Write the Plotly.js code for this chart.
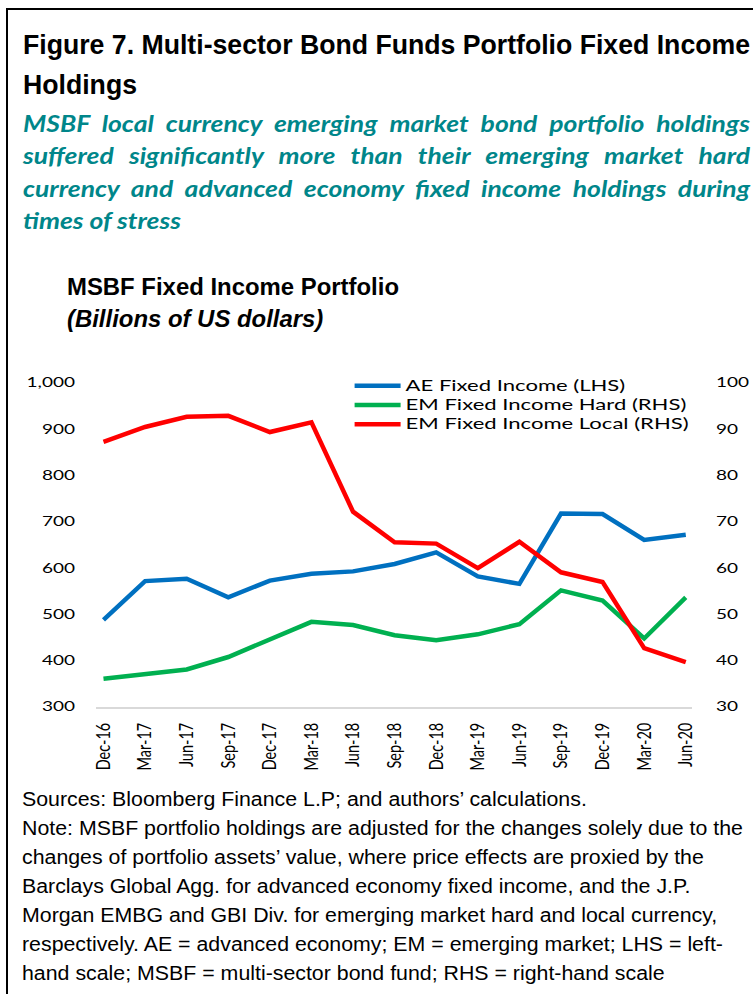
<!DOCTYPE html>
<html>
<head>
<meta charset="utf-8">
<script src="https://cdn.plot.ly/plotly-3.0.1.min.js"></script>
<style>
html, body { margin: 0; padding: 0; background: #fff; }
#page { position: relative; width: 753px; height: 994px; overflow: hidden; background: #fff; }
#frame { position: absolute; left: 6px; top: 8px; width: 800px; height: 1100px; border-left: 2px solid #000; border-top: 2px solid #000; box-sizing: border-box; z-index: 3; }
#chart { position: absolute; left: 0; top: 0; width: 753px; height: 994px; z-index: 1; }
.ln { position: absolute; line-height: 1; transform-origin: 0 0; z-index: 2; }
.ln span { white-space: nowrap; display: inline-block; }
.ttl { font-family: "Liberation Sans", Arial, sans-serif; font-weight: bold; font-size: 28px; color: #000; }
.sub { font-family: Lato, "Open Sans", sans-serif; font-weight: bold; font-style: italic; font-size: 22px; color: #00868A; }
.ctl { font-family: "Liberation Sans", Arial, sans-serif; font-weight: bold; font-size: 24px; color: #000; }
.ctl.it { font-style: italic; }
.note { font-family: "Liberation Sans", Arial, sans-serif; font-size: 20px; color: #000; }
.just { text-align: justify; text-align-last: justify; }
</style>
</head>
<body>
<div id="page">
  <div id="frame"></div>
  <div id="chart"></div>
  <div id="texts"></div>
</div>
<script>
// ---------------- data ----------------
const quarters = ['Dec-16','Mar-17','Jun-17','Sep-17','Dec-17','Mar-18','Jun-18','Sep-18','Dec-18','Mar-19','Jun-19','Sep-19','Dec-19','Mar-20','Jun-20'];
const aeFixedIncome = [488, 572, 577, 537, 573, 588, 593, 609, 634, 582, 566, 718, 717, 661, 672];   // LHS
const emFixedIncomeHard = [36.1, 37.0, 38.1, 40.8, 44.6, 48.4, 47.7, 45.5, 44.4, 45.7, 47.9, 55.2, 53.0, 44.8, 53.7]; // RHS
const emFixedIncomeLocal = [87.3, 90.5, 92.7, 92.9, 89.4, 91.5, 72.2, 65.6, 65.3, 60.0, 65.7, 59.1, 57.0, 42.7, 39.7]; // RHS
const seriesNames = ['AE Fixed Income (LHS)', 'EM Fixed Income Hard (RHS)', 'EM Fixed Income Local (RHS)'];
const leftTicks = [300, 400, 500, 600, 700, 800, 900, 1000];
const leftTickLabels = ['300', '400', '500', '600', '700', '800', '900', '1,000'];
const rightTicks = [30, 40, 50, 60, 70, 80, 90, 100];
const rightTickLabels = ['30', '40', '50', '60', '70', '80', '90', '100'];

const titleLines = ['Figure 7. Multi-sector Bond Funds Portfolio Fixed Income', 'Holdings'];
const subtitleLines = [
  'MSBF local currency emerging market bond portfolio holdings',
  'suffered significantly more than their emerging market hard',
  'currency and advanced economy fixed income holdings during',
  'times of stress'
];
const chartTitleLines = ['MSBF Fixed Income Portfolio', '(Billions of US dollars)'];
const noteLines = [
  'Sources: Bloomberg Finance L.P; and authors\u2019 calculations.',
  'Note: MSBF portfolio holdings are adjusted for the changes solely due to the',
  'changes of portfolio assets\u2019 value, where price effects are proxied by the',
  'Barclays Global Agg. for advanced economy fixed income, and the J.P.',
  'Morgan EMBG and GBI Div. for emerging market hard and local currency,',
  'respectively. AE = advanced economy; EM = emerging market; LHS = left-',
  'hand scale; MSBF = multi-sector bond fund; RHS = right-hand scale'
];

// ---------------- surrounding text ----------------
const texts = document.getElementById('texts');
function addLine(cls, txt, left, top) {
  const d = document.createElement('div');
  d.className = 'ln ' + cls;
  d.style.left = left + 'px';
  d.style.top = top + 'px';
  const s = document.createElement('span');
  s.textContent = txt;
  d.appendChild(s);
  texts.appendChild(d);
  return d;
}
// title (baselines 55, 95)
const tl = titleLines.map((t, i) => addLine('ttl', t, 23, 55 - 0.8465 * 28 + 40 * i));
const ts = 727 / tl[0].firstChild.getBoundingClientRect().width;
tl.forEach(d => d.style.transform = 'scaleX(' + ts + ')');

// subtitle (justified, baselines ~132.3 + 32.4*i)
const subTops = [112.8, 145.2, 177.5, 210];
const sl = subtitleLines.map((t, i) => addLine('sub', t, 23, subTops[i]));
const ss = 158 / sl[3].firstChild.getBoundingClientRect().width;
sl.forEach((d, i) => {
  d.style.transform = 'scaleX(' + ss + ')';
  if (i < 3) {
    d.classList.add('just');
    d.style.width = (727 / ss) + 'px';
    d.firstChild.style.display = 'inline';
    d.firstChild.style.whiteSpace = 'normal';
  }
});

// chart title (baselines 295, 327)
const cl = chartTitleLines.map((t, i) => addLine(i === 0 ? 'ctl' : 'ctl it', t, 67, 274.7 + 32 * i));
const cs = 332 / cl[0].firstChild.getBoundingClientRect().width;
cl.forEach(d => d.style.transform = 'scaleX(' + cs + ')');

// notes (baselines 806 + 29*i)
const nl = noteLines.map((t, i) => addLine('note', t, 22, 789.1 + 29 * i));
const ns = 721 / nl[1].firstChild.getBoundingClientRect().width;
nl.forEach(d => d.style.transform = 'scaleX(' + ns + ')');

// ---------------- chart ----------------
const traces = [
  { x: quarters, y: aeFixedIncome, name: seriesNames[0], type: 'scatter', mode: 'lines', yaxis: 'y',
    line: { color: '#0070C0', width: 4.5 } },
  { x: quarters, y: emFixedIncomeHard, name: seriesNames[1], type: 'scatter', mode: 'lines', yaxis: 'y2',
    line: { color: '#00B050', width: 4.5 } },
  { x: quarters, y: emFixedIncomeLocal, name: seriesNames[2], type: 'scatter', mode: 'lines', yaxis: 'y2',
    line: { color: '#FF0000', width: 4.5 } }
];

const layout = {
  width: 753, height: 994,
  margin: { l: 96, r: 61, t: 383, b: 287, pad: 0 },
  paper_bgcolor: 'rgba(0,0,0,0)',
  plot_bgcolor: 'rgba(0,0,0,0)',
  showlegend: true,
  legend: {
    x: 0.4255, xanchor: 'left', y: 1.037, yanchor: 'top',
    bgcolor: 'rgba(0,0,0,0)', borderwidth: 0,
    font: { family: 'Lato, "Open Sans", sans-serif', size: 12.5, color: '#000' },
    itemwidth: 46, tracegroupgap: 0
  },
  xaxis: {
    type: 'category', range: [-0.18, 14.15],
    showgrid: false, zeroline: false,
    showline: true, linecolor: '#D9D9D9', linewidth: 2,
    ticks: '', tickangle: -90, ticklabelstandoff: 8,
    tickfont: { family: 'Lato, "Open Sans", sans-serif', size: 14.5, color: '#000' },
    fixedrange: true
  },
  yaxis: {
    range: [300, 1000], tickvals: leftTicks, ticktext: leftTickLabels,
    showgrid: false, zeroline: false, showline: false, ticks: '',
    ticklabelstandoff: 20,
    tickfont: { family: 'Lato, "Open Sans", sans-serif', size: 12.5, color: '#000' },
    fixedrange: true
  },
  yaxis2: {
    range: [30, 100], tickvals: rightTicks, ticktext: rightTickLabels,
    overlaying: 'y', side: 'right',
    showgrid: false, zeroline: false, showline: false, ticks: '',
    ticklabelstandoff: 23,
    tickfont: { family: 'Lato, "Open Sans", sans-serif', size: 12.5, color: '#000' },
    fixedrange: true
  }
};

function stretch(sel, k, size) {
  document.querySelectorAll(sel).forEach(el => {
    if (size) el.style.fontSize = size + 'px';
    const w = el.getComputedTextLength();
    if (w > 0) {
      el.setAttribute('textLength', (w * k).toFixed(2));
      el.setAttribute('lengthAdjust', 'spacingAndGlyphs');
    }
  });
}
// widen rotated labels across their glyph height (the reference glyphs are horizontally stretched)
function thicken(sel, k) {
  document.querySelectorAll(sel).forEach(el => {
    const b = el.getBBox();
    const cy = b.y + b.height / 2;
    const tr = el.getAttribute('transform') || '';
    el.setAttribute('transform', tr + ' translate(0,' + cy + ') scale(1,' + k + ') translate(0,' + (-cy) + ')');
  });
}

Plotly.newPlot('chart', traces, layout, { staticPlot: true, displayModeBar: false }).then(() => {
  document.querySelectorAll('#chart .legend [clip-path]').forEach(e => e.removeAttribute('clip-path'));
  stretch('#chart .legendtext', 1.47, 15);
  stretch('#chart g.ytick text', 1.52);
  stretch('#chart g.y2tick text', 1.52);
  thicken('#chart g.xtick text', 1.3);
});
</script>
</body>
</html>
